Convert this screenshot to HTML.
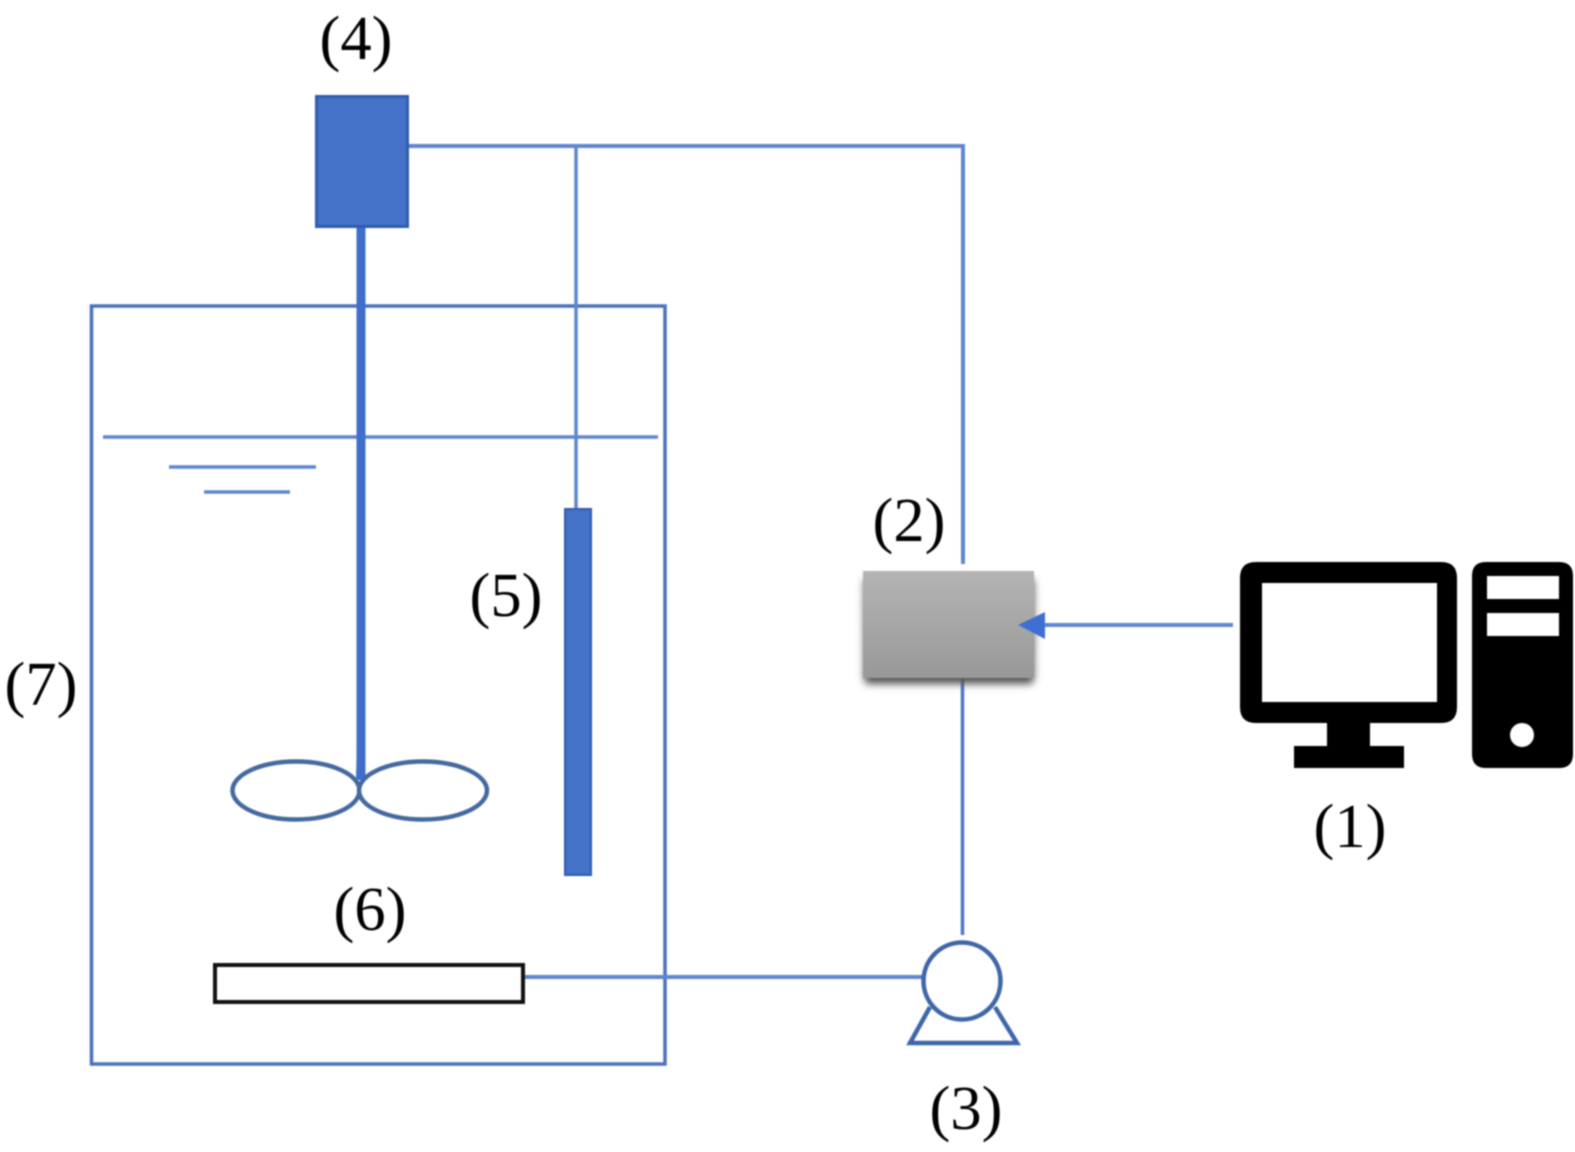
<!DOCTYPE html>
<html>
<head>
<meta charset="utf-8">
<style>
html,body{margin:0;padding:0;background:#fff;width:1575px;height:1152px;overflow:hidden}
svg{display:block;filter:blur(.7px)}
text{font-family:"Liberation Serif",serif;font-size:62.5px;fill:#000;text-anchor:middle}
</style>
</head>
<body>
<svg width="1575" height="1152" viewBox="0 0 1575 1152" xmlns="http://www.w3.org/2000/svg">
<defs>
<linearGradient id="g" x1="0" y1="0" x2="0" y2="1"><stop offset="0" stop-color="#b4b4b4"/><stop offset="1" stop-color="#989898"/></linearGradient>
<filter id="s" x="-10%" y="-15%" width="120%" height="135%"><feGaussianBlur stdDeviation="4"/></filter>
</defs>
<rect width="1575" height="1152" fill="#fff"/>

<!-- tank -->
<rect x="91.5" y="306" width="573.5" height="758" fill="none" stroke="#4a72bd" stroke-width="3.5"/>
<line x1="103" y1="437" x2="658" y2="437" stroke="#5f86d0" stroke-width="3.5"/>
<line x1="169" y1="467" x2="316" y2="467" stroke="#5f86d0" stroke-width="3.5"/>
<line x1="204" y1="492" x2="290" y2="492" stroke="#5f86d0" stroke-width="3.5"/>

<!-- wires -->
<path d="M408 146H963V564" fill="none" stroke="#5f86d0" stroke-width="4"/>
<line x1="576" y1="146" x2="576" y2="508" stroke="#5f86d0" stroke-width="3.5"/>
<line x1="962.500" y1="678" x2="962.500" y2="935" stroke="#4f78c4" stroke-width="3.5"/>
<line x1="524" y1="977" x2="922" y2="977" stroke="#5f86d0" stroke-width="4"/>

<!-- motor -->
<rect x="316.500" y="96.500" width="91" height="130" fill="#4472c8" stroke="#2f5cae" stroke-width="3"/>
<line x1="361" y1="228" x2="361" y2="780" stroke="#3f6fca" stroke-width="9"/>

<!-- impeller -->
<ellipse cx="296" cy="790.500" rx="63.500" ry="29" fill="#fff" stroke="#44699f" stroke-width="4.500"/>
<ellipse cx="423" cy="790.500" rx="64" ry="29" fill="#fff" stroke="#44699f" stroke-width="4.500"/>
<line x1="361" y1="740" x2="360" y2="778" stroke="#3f6fca" stroke-width="8"/>

<!-- probe -->
<rect x="565" y="509" width="26" height="366" fill="#4472c8" stroke="#2f5cae" stroke-width="2"/>

<!-- sparger -->
<rect x="215" y="965" width="308" height="37" fill="#fff" stroke="#111" stroke-width="4"/>

<!-- controller -->
<rect x="864" y="578" width="170" height="106" rx="5" fill="#555" filter="url(#s)"/>
<rect x="863" y="571" width="171" height="107" fill="url(#g)"/>
<line x1="1044" y1="625" x2="1233" y2="625" stroke="#5f86d0" stroke-width="4"/>
<polygon points="1018,625 1045,612 1045,639" fill="#3f6fd2"/>

<!-- pump -->
<circle cx="962" cy="981" r="38.500" fill="#fff" stroke="#3f66a8" stroke-width="4.500"/>
<path d="M930 1007L910 1043H1017L995 1007" fill="none" stroke="#3f66a8" stroke-width="4.500"/>

<!-- computer -->
<path fill-rule="evenodd" d="M1256 562H1441Q1457 562 1457 578V707Q1457 723 1441 723H1256Q1240 723 1240 707V578Q1240 562 1256 562ZM1262 583V702H1437V583Z" fill="#000"/>
<rect x="1327" y="722" width="43" height="26" fill="#000"/>
<rect x="1294" y="746" width="110" height="22" fill="#000"/>
<path fill-rule="evenodd" d="M1486 562H1559Q1573 562 1573 576V754Q1573 768 1559 768H1486Q1472 768 1472 754V576Q1472 562 1486 562ZM1487 576V599H1559V576ZM1487 613V636H1559V613ZM1522 723A12 12 0 1 0 1522 747A12 12 0 1 0 1522 723Z" fill="#000"/>

<!-- labels -->
<text x="356" y="59">(4)</text>
<text x="909" y="541">(2)</text>
<text x="506" y="616">(5)</text>
<text x="41" y="705">(7)</text>
<text x="1350" y="847">(1)</text>
<text x="370" y="930">(6)</text>
<text x="966" y="1129">(3)</text>
</svg>
</body>
</html>
